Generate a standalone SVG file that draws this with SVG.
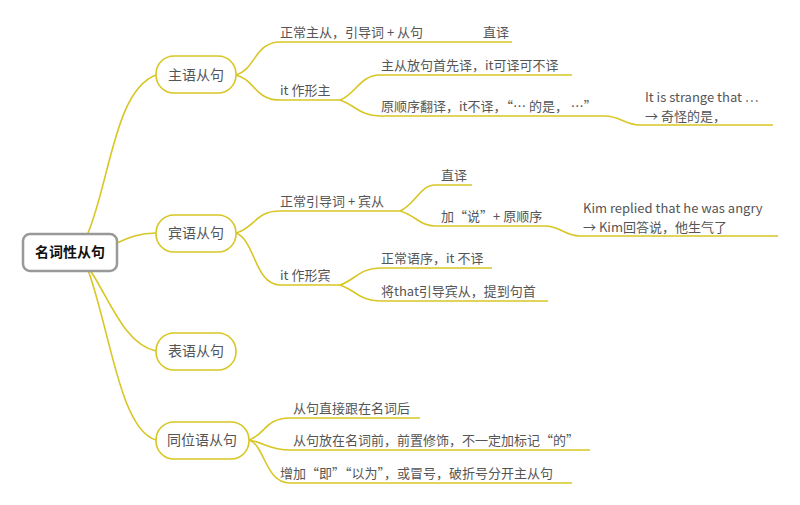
<svg xmlns="http://www.w3.org/2000/svg" width="800" height="505" viewBox="0 0 800 505">
<style>
.l{fill:none;stroke:#d8c625;stroke-width:1.6}
.n{fill:#fff;stroke:#d8c625;stroke-width:1.6}
text{font-family:"Noto Sans CJK SC","Liberation Sans",sans-serif;font-size:13px;fill:#555}
.nt{font-size:14px;text-anchor:middle}
</style>
<rect width="800" height="505" fill="#fff"/>
<g id="connectors">
<path class="l" d="M88 233 C110 180,115 90,156 75"/>
<path class="l" d="M117 243 C130 237,140 233,156 233"/>
<path class="l" d="M90 270 C110 300,125 345,156 351"/>
<path class="l" d="M88 270 C110 330,120 430,156 440"/>
<path class="l" d="M236 75 C255 70,255 42,280 42 H512"/>
<path class="l" d="M236 75 C255 80,255 100,280 100 H340"/>
<path class="l" d="M340 100 C355 95,360 75,380 75 H572"/>
<path class="l" d="M340 100 C355 105,360 116,380 116 H605 C620 116,625 125,640 125 H773"/>
<path class="l" d="M236 233 C255 228,255 211,280 211 H400"/>
<path class="l" d="M236 233 C255 240,255 285,280 285 H340"/>
<path class="l" d="M400 211 C415 205,420 185,435 185 H472"/>
<path class="l" d="M400 211 C415 215,420 226,435 226 H545 C560 226,565 236,580 236 H778"/>
<path class="l" d="M340 285 C355 280,360 268,380 268 H492"/>
<path class="l" d="M340 285 C355 290,360 301,380 301 H548"/>
<path class="l" d="M249 440 C265 435,265 418,290 418 H420"/>
<path class="l" d="M249 440 C265 443,270 450,290 450 H590"/>
<path class="l" d="M249 440 C265 445,265 483,290 483 H572"/>
</g>
<g id="root"><rect x="23" y="234" width="94" height="37" rx="7" fill="#fff" stroke="#999" stroke-width="2.5"/><text x="70" y="257" class="nt" style="fill:#111;font-weight:bold">名词性从句</text></g>
<g id="n1"><rect class="n" x="156" y="56" width="80" height="37" rx="18"/><text x="196" y="80" class="nt">主语从句</text></g>
<g id="n2"><rect class="n" x="156" y="215" width="80" height="37" rx="18"/><text x="196" y="238" class="nt">宾语从句</text></g>
<g id="n3"><rect class="n" x="156" y="333" width="80" height="37" rx="18"/><text x="196" y="356" class="nt">表语从句</text></g>
<g id="n4"><rect class="n" x="156" y="422" width="93" height="37" rx="18"/><text x="202" y="445" class="nt">同位语从句</text></g>
<g id="t1"><text x="280" y="37">正常主从，引导词 + 从句</text><text x="483" y="37">直译</text></g>
<g id="t2"><text x="280" y="95">it 作形主</text></g>
<g id="t3"><text x="381" y="70">主从放句首先译，it可译可不译</text></g>
<g id="t4"><text x="381" y="111">原顺序翻译，it不译，“… 的是， …”</text></g>
<g id="t5"><text x="645" y="102">It is strange that …</text><text x="645" y="121">→ 奇怪的是，</text></g>
<g id="t6"><text x="280" y="206">正常引导词 + 宾从</text></g>
<g id="t7"><text x="441" y="180">直译</text></g>
<g id="t8"><text x="441" y="221">加“说”+ 原顺序</text></g>
<g id="t9"><text x="583" y="213">Kim replied that he was angry</text><text x="583" y="232">→ Kim回答说，他生气了</text></g>
<g id="t10"><text x="280" y="280">it 作形宾</text></g>
<g id="t11"><text x="381" y="263">正常语序，it 不译</text></g>
<g id="t12"><text x="381" y="296">将that引导宾从，提到句首</text></g>
<g id="t13"><text x="293" y="413">从句直接跟在名词后</text></g>
<g id="t14"><text x="293" y="445">从句放在名词前，前置修饰，不一定加标记“的”</text></g>
<g id="t15"><text x="280" y="478">增加“即”“以为”，或冒号，破折号分开主从句</text></g>
</svg>
